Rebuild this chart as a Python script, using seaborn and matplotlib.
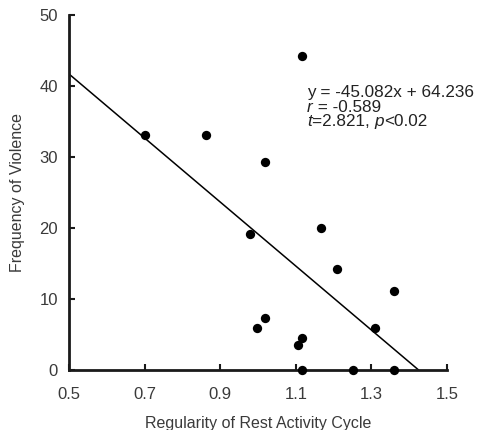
import matplotlib
matplotlib.use("Agg")
import matplotlib.pyplot as plt
import seaborn as sns
import numpy as np
import pandas as pd

# Data
regularity = [0.70, 0.862, 1.018, 1.116, 0.979, 1.167, 1.209, 1.360,
              0.997, 1.018, 1.106, 1.116, 1.310, 1.116, 1.250, 1.360]
violence = [33.1, 33.1, 29.3, 44.2, 19.2, 20.0, 14.2, 11.1,
            5.9, 7.3, 3.5, 4.5, 5.9, 0.0, 0.0, 0.0]
slope = -45.082
intercept = 64.236
x_ticks = [0.5, 0.7, 0.9, 1.1, 1.3, 1.5]
y_ticks = [0, 10, 20, 30, 40, 50]
# (text, italic) pieces of each annotation line
annotation_lines = [
    [("y = -45.082x + 64.236", False)],
    [("r", True), (" = -0.589", False)],
    [("t", True), ("=2.821, ", False), ("p", True), ("<0.02", False)],
]

df = pd.DataFrame({"x": regularity, "y": violence})

sns.set_theme(style="ticks")
plt.rcParams['font.family'] = ['Liberation Sans', 'DejaVu Sans']

fig = plt.figure(figsize=(4.84, 4.30), dpi=100)
ax = fig.add_axes([0.1426, 0.1395, 0.9236 - 0.1426, 0.965 - 0.1395])

sns.scatterplot(data=df, x="x", y="y", ax=ax, color="black", s=45,
                edgecolor="black", linewidth=0, clip_on=False, zorder=3)

x_end = -intercept / slope
xl = np.array([0.5, x_end])
sns.lineplot(x=xl, y=slope * xl + intercept, ax=ax, color="black", lw=1.1)

ax.set_xlim(0.5, 1.5)
ax.set_ylim(0, 50)
ax.set_xticks(x_ticks)
ax.set_xticklabels([f"{t:.1f}" for t in x_ticks])
ax.set_yticks(y_ticks)
ax.set_yticklabels([str(t) for t in y_ticks])
for s in ["top", "right"]:
    ax.spines[s].set_visible(False)
for s in ["left", "bottom"]:
    ax.spines[s].set_linewidth(2.0)
    ax.spines[s].set_color("#1a1a1a")
ax.tick_params(direction="in", length=4, width=1.5, color="#1a1a1a",
               labelsize=12, labelcolor="#3a3a3a")
ax.tick_params(axis="x", pad=12)
ax.tick_params(axis="y", pad=8)

ax.set_xlabel("Regularity of Rest Activity Cycle", fontsize=11.5, color="#3a3a3a", labelpad=10)
ax.set_ylabel("Frequency of Violence", fontsize=11.5, color="#3a3a3a", labelpad=10)

tc = "#222222"
fs = 12.3
fig.canvas.draw()
renderer = fig.canvas.get_renderer()
inv = fig.transFigure.inverted()
y_centers = [92, 107, 122]
for line, yc in zip(annotation_lines, y_centers):
    xpos = 307 / 484
    for txt, ital in line:
        t = fig.text(xpos, 1 - yc / 430, txt, fontsize=fs, color=tc,
                     va="center", ha="left",
                     style="italic" if ital else "normal")
        bb = t.get_window_extent(renderer=renderer)
        xpos = inv.transform((bb.x1, 0))[0]

fig.savefig("out.png", dpi=100)
